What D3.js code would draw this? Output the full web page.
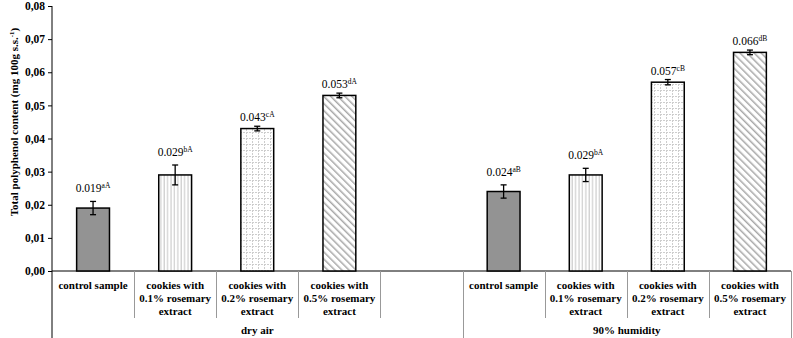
<!DOCTYPE html>
<html>
<head>
<meta charset="utf-8">
<script src="https://cdn.jsdelivr.net/npm/d3@7"></script>
<style>
  body { margin: 0; background: #fff; }
  svg text { font-family: "Liberation Serif", "Times New Roman", serif; }
</style>
</head>
<body>
<div id="chart"></div>
<script>
// data
var sampleLabels = [
  ['control sample'],
  ['cookies with', '0.1% rosemary', 'extract'],
  ['cookies with', '0.2% rosemary', 'extract'],
  ['cookies with', '0.5% rosemary', 'extract']
];
var groupLabels = ['dry air', '90% humidity'];
var dryValues = [0.019, 0.029, 0.043, 0.053];
var dryErrors = [0.002, 0.003, 0.0007, 0.0007];
var dryLetters = ['aA', 'bA', 'cA', 'dA'];
var humidValues = [0.024, 0.029, 0.057, 0.066];
var humidErrors = [0.002, 0.002, 0.0008, 0.0007];
var humidLetters = ['aB', 'bA', 'cB', 'dB'];
var yTicks = [0, 0.01, 0.02, 0.03, 0.04, 0.05, 0.06, 0.07, 0.08];

var chart_width = 793;
var chart_height = 338;
var padLeft = 52, padRight = 791, padTop = 6, axisY = 271;

// slots: 4 dry air + 1 empty, then 4 humidity
var slots = [];
sampleLabels.forEach(function(l, i) {
  slots.push({ key: 'd' + i, kind: i, label: l, value: dryValues[i], err: dryErrors[i], letters: dryLetters[i] });
});
slots.push({ key: 'gap', kind: -1, label: [], value: null });
sampleLabels.forEach(function(l, i) {
  slots.push({ key: 'h' + i, kind: i, label: l, value: humidValues[i], err: humidErrors[i], letters: humidLetters[i] });
});

var x_scale = d3.scaleBand()
  .domain(slots.map(d => d.key))
  .range([padLeft, padRight])
  .paddingInner(0.6)
  .paddingOuter(0.3);

var y_scale = d3.scaleLinear()
  .domain([0, 0.08])
  .range([axisY, padTop]);

var svg = d3.select('#chart')
  .append('svg')
  .attr('width', chart_width)
  .attr('height', chart_height);

// patterns
var defs = svg.append('defs');

var pv = defs.append('pattern').attr('id', 'pv')
  .attr('patternUnits', 'userSpaceOnUse').attr('width', 3.4).attr('height', 10);
pv.append('rect').attr('width', 3.4).attr('height', 10).attr('fill', '#fff');
pv.append('line').attr('x1', 1).attr('x2', 1).attr('y1', 0).attr('y2', 10)
  .attr('stroke', '#c4c4c4').attr('stroke-width', 1);

var pg = defs.append('pattern').attr('id', 'pg')
  .attr('patternUnits', 'userSpaceOnUse').attr('width', 6).attr('height', 6);
pg.append('rect').attr('width', 6).attr('height', 6).attr('fill', '#fff');
pg.append('path').attr('d', 'M0,0.5H6M0.5,0V6')
  .attr('stroke', '#cdcdcd').attr('stroke-width', 1).attr('stroke-dasharray', '2,1');

var pd = defs.append('pattern').attr('id', 'pd')
  .attr('patternUnits', 'userSpaceOnUse').attr('width', 5).attr('height', 5)
  .attr('patternTransform', 'rotate(-45)');
pd.append('rect').attr('width', 5).attr('height', 5).attr('fill', '#fff');
pd.append('line').attr('x1', 0).attr('x2', 0).attr('y1', 0).attr('y2', 5)
  .attr('stroke', '#a8a8a8').attr('stroke-width', 3);

var fills = ['#939393', 'url(#pv)', 'url(#pg)', 'url(#pd)'];

// y axis
var y_axis = d3.axisLeft(y_scale)
  .tickValues(yTicks)
  .tickSize(4)
  .tickFormat(d => d3.format('.2f')(d).replace('.', ','));

var gy = svg.append('g')
  .attr('transform', 'translate(' + padLeft + ',0)')
  .call(y_axis);
gy.select('.domain').remove();
gy.selectAll('.tick line').attr('stroke', '#000');
gy.selectAll('.tick text')
  .attr('font-size', 11.5)
  .attr('font-weight', 'bold')
  .attr('fill', '#000')
  .attr('x', -7);
svg.append('line')
  .attr('x1', padLeft).attr('x2', padLeft)
  .attr('y1', padTop).attr('y2', chart_height)
  .attr('stroke', '#000');

// y title
var yt = svg.append('text')
  .attr('transform', 'translate(18,122) rotate(-90)')
  .attr('text-anchor', 'middle')
  .attr('font-size', 11)
  .attr('font-weight', 'bold');
yt.append('tspan').text('Total polyphenol content (mg 100g s.s.');
yt.append('tspan').attr('font-size', 7).attr('dy', -4).text('-1');
yt.append('tspan').attr('dy', 4).text(')');

// x axis line
svg.append('line')
  .attr('x1', padLeft).attr('x2', padRight)
  .attr('y1', axisY).attr('y2', axisY)
  .attr('stroke', '#000');

// category separators
var step = x_scale.step();
slots.forEach(function(d, i) {
  var xe = Math.round(padLeft + step * (i + 1)) + 0.5;
  var isGroup = (i === 4 || i === slots.length - 1);
  svg.append('line')
    .attr('x1', xe).attr('x2', xe)
    .attr('y1', axisY).attr('y2', isGroup ? chart_height : 318)
    .attr('stroke', '#999');
});

// bars
var bars = slots.filter(d => d.value !== null);

svg.selectAll('rect.bar')
  .data(bars)
  .enter()
  .append('rect')
  .attr('class', 'bar')
  .attr('x', d => x_scale(d.key))
  .attr('width', x_scale.bandwidth())
  .attr('y', d => y_scale(d.value))
  .attr('height', d => y_scale(0) - y_scale(d.value))
  .attr('fill', d => fills[d.kind])
  .attr('stroke', '#000')
  .attr('stroke-width', 1.5);

// error bars
var cx = d => x_scale(d.key) + x_scale.bandwidth() / 2;
var eg = svg.append('g').attr('stroke', '#000').attr('stroke-width', 1.3);
bars.forEach(function(d) {
  var x0 = cx(d);
  var y1 = y_scale(d.value + d.err), y2 = y_scale(d.value - d.err);
  eg.append('line').attr('x1', x0).attr('x2', x0).attr('y1', y1).attr('y2', y2);
  eg.append('line').attr('x1', x0 - 3).attr('x2', x0 + 3).attr('y1', y1).attr('y2', y1);
  eg.append('line').attr('x1', x0 - 3).attr('x2', x0 + 3).attr('y1', y2).attr('y2', y2);
});

// value labels
bars.forEach(function(d) {
  var t = svg.append('text')
    .attr('x', cx(d))
    .attr('y', y_scale(d.value + d.err) - (d.err > 0.001 ? 9 : 5))
    .attr('text-anchor', 'middle')
    .attr('font-size', 11.5);
  t.append('tspan').text(d3.format('.3f')(d.value));
  t.append('tspan').attr('font-size', 7.5).attr('dy', -4).text(d.letters);
});

// category labels
slots.forEach(function(d) {
  var t = svg.append('text')
    .attr('text-anchor', 'middle')
    .attr('font-size', 11)
    .attr('font-weight', 'bold');
  d.label.forEach(function(line, j) {
    t.append('tspan')
      .attr('x', cx(d))
      .attr('y', 289 + j * 13)
      .text(line);
  });
});

// group labels
var groupBounds = [[padLeft, padLeft + step * 5], [padLeft + step * 5, padRight]];
groupLabels.forEach(function(g, i) {
  svg.append('text')
    .attr('x', (groupBounds[i][0] + groupBounds[i][1]) / 2)
    .attr('y', 334)
    .attr('text-anchor', 'middle')
    .attr('font-size', 11)
    .attr('font-weight', 'bold')
    .text(g);
});
</script>
</body>
</html>
